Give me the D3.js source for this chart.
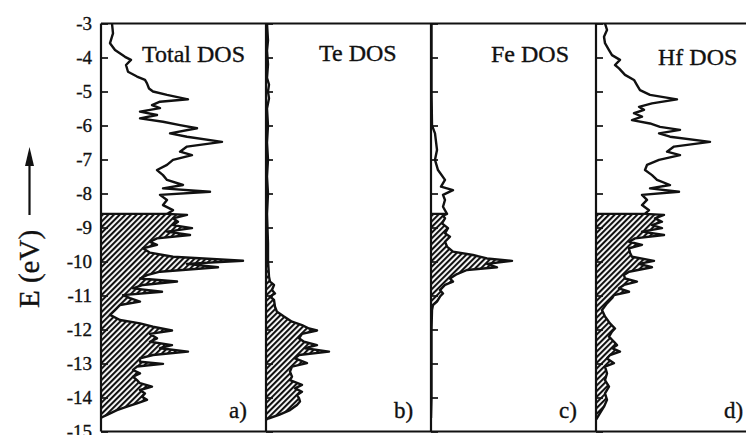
<html>
<head>
  <title>DOS</title>
  <script src="https://d3js.org/d3.v7.min.js"></script>
  <style>
    body { margin: 0; background: #fff; }
  </style>
</head>
<body>
<svg></svg>
<script>
// energies in eV, DOS in arbitrary units
const eFermi = -8.6;
const energyTicks = d3.range(-3, -16, -1);
const panelTitles = ["Total DOS", "Te DOS", "Fe DOS", "Hf DOS"];
const panelLetters = ["a)", "b)", "c)", "d)"];

const totalDos = [
  [-3.00,1.1],[-3.29,1.2],[-3.58,0.9],[-3.78,1.4],[-3.98,2.4],[-4.07,3.0],[-4.22,2.5],[-4.42,2.7],
  [-4.56,3.6],[-4.66,4.4],[-4.76,4.6],[-4.91,4.8],[-5.00,5.2],[-5.10,6.6],[-5.23,8.7],[-5.30,5.9],
  [-5.40,5.1],[-5.49,5.9],[-5.59,3.9],[-5.69,5.6],[-5.79,3.9],[-5.89,6.2],[-5.99,7.9],[-6.08,9.6],
  [-6.23,6.9],[-6.33,8.6],[-6.48,12.1],[-6.62,8.6],[-6.77,7.9],[-6.87,9.1],[-7.01,7.2],[-7.16,6.6],
  [-7.31,5.6],[-7.46,6.2],[-7.60,6.6],[-7.75,8.2],[-7.85,6.2],[-7.95,10.9],[-8.04,5.9],[-8.19,6.6],
  [-8.34,6.2],[-8.49,7.2],[-8.60,6.6],[-8.63,8.6],[-8.73,7.2],[-8.83,7.7],[-8.93,7.2],[-9.02,9.1],
  [-9.12,6.6],[-9.22,8.9],[-9.32,5.6],[-9.42,4.9],[-9.51,5.6],[-9.61,4.2],[-9.74,4.9],[-9.86,7.2],
  [-9.98,14.2],[-10.07,8.6],[-10.17,11.7],[-10.30,5.9],[-10.40,4.6],[-10.50,3.9],[-10.59,7.6],
  [-10.69,4.2],[-10.79,3.2],[-10.89,6.1],[-10.99,2.2],[-11.08,2.9],[-11.18,3.9],[-11.28,1.9],
  [-11.43,1.4],[-11.57,0.9],[-11.72,1.9],[-11.82,3.9],[-11.92,5.2],[-12.03,7.1],[-12.13,4.9],
  [-12.26,5.6],[-12.36,4.9],[-12.46,7.1],[-12.55,5.9],[-12.65,8.7],[-12.75,5.2],[-12.85,3.9],
  [-12.95,3.9],[-13.01,6.2],[-13.09,3.6],[-13.19,3.2],[-13.29,3.9],[-13.39,3.2],[-13.49,3.6],
  [-13.58,3.9],[-13.68,5.1],[-13.78,3.9],[-13.88,4.4],[-13.98,4.1],[-14.07,4.6],[-14.17,3.6],
  [-14.27,2.6],[-14.37,1.6],[-14.51,0.6],[-14.58,0.1],[-14.60,0]
];

const teDos = [
  [-3.0,0.1],[-3.5,0.2],[-3.8,0.1],[-4.2,0.2],[-4.6,0.1],[-4.8,0.3],[-5.0,0.2],[-5.2,0.3],[-5.5,0.1],
  [-6.0,0.2],[-6.5,0.1],[-7.0,0.2],[-7.5,0.1],[-8.0,0.2],[-8.6,0.1],[-9.47,0.2],[-9.96,0.2],
  [-10.45,0.3],[-10.59,0.4],[-10.69,0.8],[-10.84,0.6],[-10.94,0.9],[-11.03,0.4],[-11.13,0.8],
  [-11.33,0.9],[-11.48,1.1],[-11.62,1.8],[-11.77,2.6],[-11.87,3.6],[-11.97,4.3],[-12.03,5.1],
  [-12.13,3.6],[-12.26,3.3],[-12.36,3.8],[-12.46,5.1],[-12.55,3.9],[-12.65,6.3],[-12.75,3.3],
  [-12.85,2.9],[-12.99,4.1],[-13.09,2.6],[-13.24,2.4],[-13.39,2.6],[-13.49,2.4],[-13.63,3.6],
  [-13.73,2.9],[-13.83,3.6],[-13.93,3.1],[-14.02,3.3],[-14.12,3.4],[-14.22,3.1],[-14.37,2.4],
  [-14.51,1.3],[-14.61,0.3],[-14.65,0]
];

const feDos = [
  [-3.0,0.05],[-5.0,0.05],[-6.0,0.1],[-6.23,0.4],[-6.72,0.6],[-7.01,0.4],[-7.31,0.7],[-7.60,1.4],
  [-7.80,1.0],[-7.90,2.2],[-8.04,1.2],[-8.19,1.4],[-8.39,1.2],[-8.60,1.6],[-8.65,1.2],[-8.73,1.4],
  [-8.88,1.1],[-9.02,1.7],[-9.17,1.4],[-9.27,1.9],[-9.42,1.4],[-9.56,1.6],[-9.71,2.2],[-9.81,4.2],
  [-9.91,5.6],[-9.98,8.1],[-10.07,5.6],[-10.17,6.6],[-10.25,3.6],[-10.37,2.6],[-10.50,1.9],
  [-10.59,2.2],[-10.69,1.4],[-10.84,0.9],[-10.94,1.2],[-11.03,0.9],[-11.18,0.6],[-11.28,0.2],
  [-11.43,0.1],[-12.0,0.05],[-13.0,0.05],[-14.0,0.05],[-14.6,0]
];

const hfDos = [
  [-3.00,0.9],[-3.19,1.1],[-3.39,0.8],[-3.58,0.9],[-3.78,1.3],[-3.93,1.6],[-4.07,2.4],[-4.22,1.9],
  [-4.32,2.3],[-4.51,2.9],[-4.66,3.8],[-4.81,4.1],[-4.96,4.4],[-5.10,5.4],[-5.23,8.1],[-5.35,5.6],
  [-5.45,4.3],[-5.54,4.8],[-5.64,3.8],[-5.74,4.6],[-5.84,3.6],[-5.94,5.4],[-6.04,6.4],[-6.13,8.4],
  [-6.23,6.3],[-6.33,7.4],[-6.48,11.4],[-6.62,7.8],[-6.77,7.1],[-6.87,8.4],[-7.01,6.3],[-7.16,5.1],
  [-7.31,4.9],[-7.46,5.6],[-7.60,6.1],[-7.75,7.4],[-7.85,5.4],[-7.95,8.3],[-8.04,4.6],[-8.19,5.1],
  [-8.34,4.6],[-8.49,5.3],[-8.60,4.9],[-8.63,6.8],[-8.73,5.9],[-8.83,6.6],[-8.93,5.6],[-9.02,6.6],
  [-9.12,4.6],[-9.22,6.8],[-9.32,3.9],[-9.42,3.3],[-9.51,4.6],[-9.61,3.3],[-9.74,3.4],[-9.86,3.6],
  [-9.98,5.8],[-10.07,4.3],[-10.17,5.6],[-10.30,3.3],[-10.40,2.8],[-10.50,2.9],[-10.59,4.1],
  [-10.69,2.8],[-10.79,2.3],[-10.89,3.3],[-10.99,1.8],[-11.08,1.6],[-11.23,1.1],[-11.43,0.6],
  [-11.62,0.9],[-11.82,1.4],[-11.97,1.9],[-12.06,1.6],[-12.21,1.3],[-12.36,1.8],[-12.46,2.1],
  [-12.55,1.6],[-12.65,2.4],[-12.75,1.4],[-12.85,1.1],[-12.99,1.8],[-13.09,0.9],[-13.29,1.1],
  [-13.49,0.9],[-13.68,1.3],[-13.88,0.9],[-14.07,1.1],[-14.27,0.8],[-14.46,0.4],[-14.61,0.1],[-14.65,0]
];

const series = [totalDos, teDos, feDos, hfDos];

// layout
const W = 746, H = 435;
const plotLeft = 101, panelW = 165, plotTop = 23.5, plotBottom = 431.5;
const titleX = [41, 53, 60, 62], titleY = [62, 61, 62, 65];
const serif = '"Liberation Serif", "Times New Roman", serif';
const ink = "#111";

const svg = d3.select("svg").attr("width", W).attr("height", H);

const y = d3.scaleLinear().domain([-3, -15]).range([plotTop, plotBottom]);
const x = d3.scaleLinear().domain([0, 16.5]).range([0, panelW]);

const defs = svg.append("defs");
defs.append("pattern")
  .attr("id", "hatch")
  .attr("patternUnits", "userSpaceOnUse")
  .attr("width", 4).attr("height", 4)
  .attr("patternTransform", "rotate(45)")
  .append("line")
  .attr("x1", 1).attr("y1", 0).attr("x2", 1).attr("y2", 4)
  .attr("stroke", ink).attr("stroke-width", 2.2);

defs.append("clipPath").attr("id", "panelClip")
  .append("rect").attr("x", 0).attr("y", plotTop).attr("width", panelW).attr("height", plotBottom - plotTop);

const area = d3.area()
  .y(d => y(d[0])).x0(x(0)).x1(d => x(d[1]));
const line = d3.line()
  .y(d => y(d[0])).x(d => x(d[1]));

// make scanned-looking text a little heavier
function inked(sel, size) {
  sel.attr("font-family", serif).attr("font-size", size)
    .attr("fill", ink).attr("stroke", ink).attr("stroke-width", 0.35);
}

series.forEach((data, i) => {
  const g = svg.append("g").attr("transform", `translate(${plotLeft + i * panelW},0)`);
  const body = g.append("g").attr("clip-path", "url(#panelClip)");

  const below = data.filter(d => d[0] <= eFermi);
  body.append("path").datum(below)
    .attr("d", area).attr("fill", "url(#hatch)");
  body.append("path").datum(data)
    .attr("d", line).attr("fill", "none").attr("stroke", ink)
    .attr("stroke-width", 2.4).attr("stroke-linejoin", "round");
  // fermi level edge of the filled part
  body.append("line")
    .attr("x1", 0).attr("x2", x(below[0][1]))
    .attr("y1", y(eFermi)).attr("y2", y(eFermi))
    .attr("stroke", ink).attr("stroke-width", 2.2);

  // left axis with inward ticks
  g.append("g").call(d3.axisRight(y).tickValues(energyTicks).tickSize(7).tickFormat(""))
    .call(a => a.select(".domain").remove())
    .selectAll("line").attr("stroke", ink).attr("stroke-width", 1.7);
  g.append("line").attr("x1", 0).attr("x2", 0).attr("y1", plotTop).attr("y2", plotBottom)
    .attr("stroke", ink).attr("stroke-width", 2.2);

  g.append("text").attr("x", titleX[i]).attr("y", titleY[i])
    .call(inked, 24).text(panelTitles[i]);
  g.append("text").attr("x", 128).attr("y", 418)
    .call(inked, 23).text(panelLetters[i]);
});

// frame top and bottom, right edge of last panel
svg.append("line").attr("x1", plotLeft).attr("x2", plotLeft + 4 * panelW)
  .attr("y1", plotTop).attr("y2", plotTop).attr("stroke", ink).attr("stroke-width", 2.2);
svg.append("line").attr("x1", plotLeft).attr("x2", plotLeft + 4 * panelW)
  .attr("y1", plotBottom).attr("y2", plotBottom).attr("stroke", ink).attr("stroke-width", 2.2);
svg.append("line").attr("x1", plotLeft + 4 * panelW).attr("x2", plotLeft + 4 * panelW)
  .attr("y1", plotTop).attr("y2", plotBottom).attr("stroke", ink).attr("stroke-width", 2.2);

// tick labels on the first panel
const yAxis = svg.append("g").attr("transform", `translate(${plotLeft},0)`)
  .call(d3.axisLeft(y).tickValues(energyTicks).tickSize(0).tickPadding(9).tickFormat(d => d));
yAxis.select(".domain").remove();
yAxis.selectAll("text").call(inked, 19);

// axis title with arrow
svg.append("text")
  .attr("transform", "translate(39,269) rotate(-90)")
  .attr("text-anchor", "middle")
  .call(inked, 29)
  .text("E (eV)");
svg.append("line").attr("x1", 29.5).attr("x2", 29.5).attr("y1", 215).attr("y2", 160)
  .attr("stroke", ink).attr("stroke-width", 2.2);
svg.append("path").attr("d", "M29.5,147 L25,166 L34,166 Z").attr("fill", ink);
</script>
</body>
</html>
